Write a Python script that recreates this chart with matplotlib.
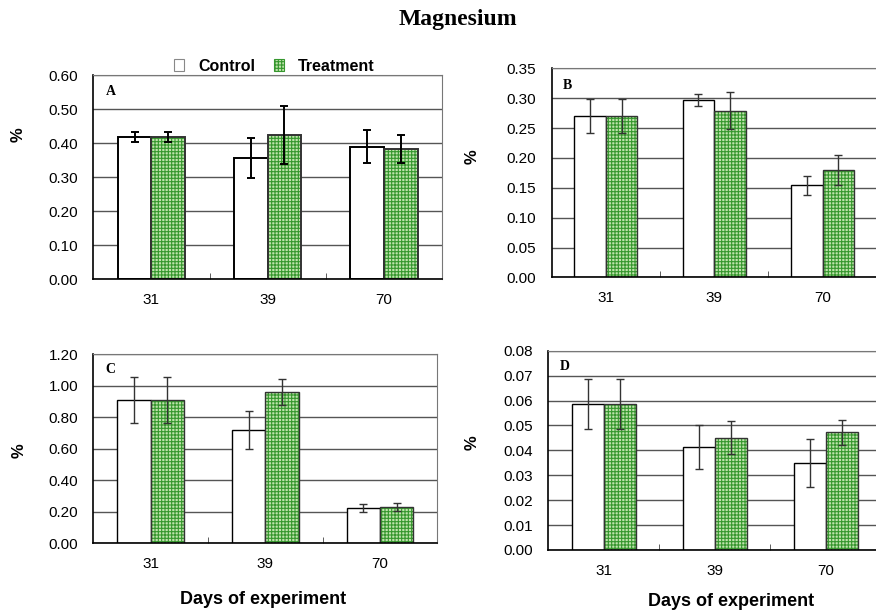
import matplotlib.pyplot as plt
from matplotlib.patches import Patch
import numpy as np

# values
days = ['31', '39', '70']
panel_names = ['A', 'B', 'C', 'D']

ctrl_a = [0.418, 0.355, 0.389]
ctrl_a_err = [0.014, 0.059, 0.049]
trt_a = [0.418, 0.424, 0.383]
trt_a_err = [0.014, 0.086, 0.042]

ctrl_b = [0.270, 0.297, 0.154]
ctrl_b_err = [0.029, 0.0105, 0.016]
trt_b = [0.270, 0.279, 0.180]
trt_b_err = [0.029, 0.031, 0.025]

ctrl_c = [0.908, 0.720, 0.222]
ctrl_c_err = [0.146, 0.123, 0.026]
trt_c = [0.908, 0.963, 0.229]
trt_c_err = [0.146, 0.082, 0.025]

ctrl_d = [0.0586, 0.0413, 0.0349]
ctrl_d_err = [0.0102, 0.0088, 0.0098]
trt_d = [0.0586, 0.0451, 0.0472]
trt_d_err = [0.0102, 0.0066, 0.0051]

y_maxes = [0.60, 0.35, 1.20, 0.08]
y_steps = [0.10, 0.05, 0.20, 0.01]

plt.rcParams['font.family'] = ['Liberation Sans', 'DejaVu Sans']
plt.rcParams['hatch.linewidth'] = 0.8

light_green = '#bfe3ac'
dark_green = '#36972e'

fig = plt.figure(figsize=(8.76, 6.15), dpi=100)

# axes boxes in figure fractions (left, bottom, width, height)
boxes = [
    [0.1065, 0.5463, 0.398, 0.3317],
    [0.6298, 0.549, 0.371, 0.3398],
    [0.1065, 0.1166, 0.3927, 0.3073],
    [0.6259, 0.1057, 0.380, 0.324],
]
panels = [
    (ctrl_a, ctrl_a_err, trt_a, trt_a_err),
    (ctrl_b, ctrl_b_err, trt_b, trt_b_err),
    (ctrl_c, ctrl_c_err, trt_c, trt_c_err),
    (ctrl_d, ctrl_d_err, trt_d, trt_d_err),
]

x = np.arange(len(days))
w = 0.29

for i, (c, ce, t, te) in enumerate(panels):
    ax = fig.add_axes(boxes[i])
    lw = 1.4 if i == 0 else 1.0
    ecol = 'black' if i == 0 else '#333333'
    ax.bar(x - w / 2, c, w, color='white', edgecolor='black', linewidth=lw, zorder=2)
    # checkered fill: hatch drawn in the edge colour, outline drawn on top
    ax.bar(x + w / 2, t, w, color=light_green, edgecolor=dark_green, linewidth=0,
           hatch='+++++', zorder=2)
    ax.bar(x + w / 2, t, w, fill=False, edgecolor='#333333', linewidth=lw, zorder=2.5)
    ax.errorbar(x - w / 2, c, yerr=ce, fmt='none', ecolor=ecol, elinewidth=lw,
                capsize=3, capthick=lw, zorder=3)
    ax.errorbar(x + w / 2, t, yerr=te, fmt='none', ecolor=ecol, elinewidth=lw,
                capsize=3, capthick=lw, zorder=3)

    ax.set_xlim(-0.5, 2.5)
    ax.set_ylim(0, y_maxes[i])
    ticks = np.arange(0, y_maxes[i] + y_steps[i] / 2, y_steps[i])
    ax.set_yticks(ticks)
    ax.set_yticklabels(['%.2f' % v for v in ticks], fontsize=11)
    ax.set_xticks(x)
    ax.set_xticklabels(days, fontsize=11)
    ax.set_xticks([0.5, 1.5], minor=True)
    ax.tick_params(axis='y', which='major', length=0, pad=11)
    ax.tick_params(axis='x', which='major', length=0, pad=10)
    ax.tick_params(axis='x', which='minor', direction='in', length=4, color='#444444')
    ax.yaxis.grid(True, color='#555555', linewidth=1.0, zorder=0)
    ax.set_axisbelow(True)
    for s in ['top', 'right']:
        ax.spines[s].set_color('#777777')
    for s in ['left', 'bottom']:
        ax.spines[s].set_color('black')
        ax.spines[s].set_linewidth(1.2)

    ax.text(0.035, 0.92, panel_names[i], transform=ax.transAxes, ha='left', va='center',
            fontsize=10, fontweight='bold', family='Liberation Serif')

    if i == 0:
        handles = [Patch(facecolor='white', edgecolor='#888888', linewidth=0.8),
                   Patch(facecolor=light_green, edgecolor=dark_green, hatch='+++++', linewidth=0.8)]
        leg = ax.legend(handles, ['Control', 'Treatment'], loc='lower center',
                        bbox_to_anchor=(0.52, 0.975), ncol=2, frameon=False,
                        fontsize=11.5, handlelength=0.6, handleheight=0.75, columnspacing=1.2,
                        handletextpad=0.9, borderaxespad=0)
        for txt in leg.get_texts():
            txt.set_fontweight('bold')

# y labels
for xp, yp in [(18, 135), (472, 157), (19, 451), (472, 443)]:
    fig.text(xp / 876, 1 - yp / 615, '%', rotation=90, ha='center', va='center',
             fontsize=12, fontweight='bold')

fig.text(263 / 876, 1 - 600 / 615, 'Days of experiment', ha='center', va='center',
         fontsize=13, fontweight='bold')
fig.text(731 / 876, 1 - 602 / 615, 'Days of experiment', ha='center', va='center',
         fontsize=13, fontweight='bold')

fig.text(458 / 876, 1 - 19 / 615, 'Magnesium', ha='center', va='center',
         fontsize=17, fontweight='bold', family='Liberation Serif')

fig.savefig('out.png', dpi=100)
